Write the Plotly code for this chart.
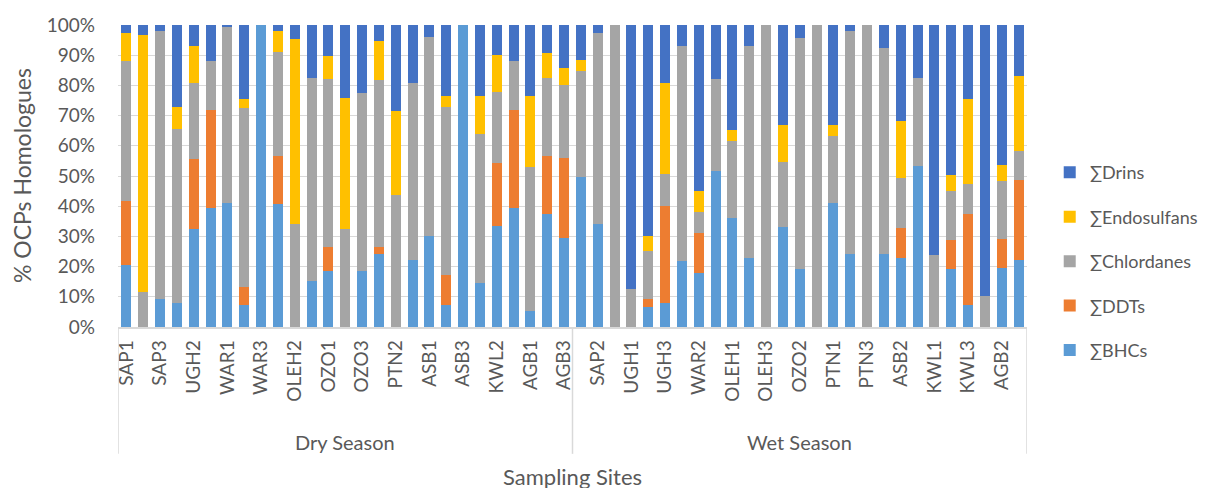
import plotly.graph_objects as go

sites = ["SAP1", "SAP2", "SAP3", "UGH1", "UGH2", "UGH3", "WAR1", "WAR2", "WAR3",
         "OLEH1", "OLEH2", "OLEH3", "OZO1", "OZO2", "OZO3", "PTN1", "PTN2", "PTN3",
         "ASB1", "ASB2", "ASB3", "KWL1", "KWL2", "KWL3", "AGB1", "AGB2", "AGB3"]
seasons = ["Dry Season", "Wet Season"]

# percentages, dry season 27 sites followed by wet season 27 sites
bhc = [20.4, 0, 9.4, 8.0, 32.3, 39.4, 41.1, 7.4, 100, 40.7, 0, 15.3, 18.7, 0, 18.4, 24.3, 0, 22.1,
       30.2, 7.4, 100, 14.6, 33.6, 39.5, 5.2, 37.3, 29.4,
       49.6, 34.0, 0, 0, 6.5, 7.8, 21.7, 18.0, 51.7, 36.1, 22.9, 0, 33.2, 19.1, 0, 41.1, 24.1, 0,
       24.1, 22.9, 53.4, 0, 19.1, 7.4, 0, 19.5, 22.1]
ddt = [21.2, 0, 0, 0, 23.2, 32.6, 0, 5.8, 0, 15.8, 0, 0, 7.8, 0, 0, 2.2, 0, 0,
       0, 9.7, 0, 0, 20.6, 32.5, 0, 19.2, 26.5,
       0, 0, 0, 0, 2.9, 32.4, 0, 13.0, 0, 0, 0, 0, 0, 0, 0, 0, 0, 0,
       0, 9.8, 0, 0, 9.8, 29.9, 0, 9.8, 26.7]
chl = [46.4, 11.6, 88.7, 57.6, 25.3, 16.0, 58.3, 59.2, 0, 34.7, 34.0, 67.3, 55.6, 32.3, 59.1, 55.3, 43.8, 58.7,
       65.9, 55.8, 0, 49.3, 23.7, 16.0, 47.8, 26.1, 24.3,
       35.2, 63.4, 100, 12.7, 15.7, 10.6, 71.5, 7.0, 30.4, 25.6, 70.3, 100, 21.6, 76.6, 100, 22.1, 74.0, 100,
       68.2, 16.8, 29.2, 23.8, 16.0, 10.1, 10.3, 19.0, 9.6]
endo = [9.4, 85.2, 0, 7.4, 12.4, 0, 0, 3.1, 0, 6.7, 61.4, 0, 7.8, 43.6, 0, 13.0, 27.8, 0,
        0, 3.7, 0, 12.7, 12.3, 0, 23.6, 8.0, 5.4,
        3.7, 0, 0, 0, 5.0, 30.0, 0, 6.9, 0, 3.6, 0, 0, 12.1, 0, 0, 3.7, 0, 0,
        0, 18.6, 0, 0, 5.5, 28.0, 0, 5.5, 24.6]
drins = [2.6, 3.2, 1.9, 27.0, 6.8, 12.0, 0.6, 24.5, 0, 2.1, 4.6, 17.4, 10.1, 24.1, 22.5, 5.2, 28.4, 19.2,
         3.9, 23.4, 0, 23.4, 9.8, 12.0, 23.4, 9.4, 14.4,
         11.5, 2.6, 0, 87.3, 69.9, 19.2, 6.8, 55.1, 17.9, 34.7, 6.8, 0, 33.1, 4.3, 0, 33.1, 1.9, 0,
         7.7, 31.9, 17.4, 76.2, 49.6, 24.6, 89.7, 46.2, 17.0]

series = [("∑BHCs", bhc, "#5B9BD5"), ("∑DDTs", ddt, "#ED7D31"),
          ("∑Chlordanes", chl, "#A5A5A5"), ("∑Endosulfans", endo, "#FFC000"),
          ("∑Drins", drins, "#4472C4")]

labels = sites + sites
xs = list(range(len(labels)))
n_dry = len(sites)

fig = go.Figure()
for i, (name, vals, col) in enumerate(series):
    fig.add_trace(go.Bar(x=xs, y=vals, name=name, marker=dict(color=col, line=dict(width=0)),
                         legendgroup=name, legendrank=len(series) - i))

txt = "#595959"
font = "Lato, 'Open Sans', sans-serif"
fig.update_layout(
    barmode="stack", bargap=0.4,
    width=1212, height=488,
    margin=dict(l=110, r=193, t=16.5, b=169, autoexpand=False),
    paper_bgcolor="white", plot_bgcolor="white",
    font=dict(family=font, color=txt, size=18),
    showlegend=True,
    legend=dict(traceorder="grouped", x=1.025, xanchor="left", y=0.218, yanchor="middle",
                font=dict(size=18, color=txt), tracegroupgap=18, itemwidth=30),
    xaxis=dict(range=[-0.5, len(xs) - 0.5], tickmode="array", tickvals=xs[::2],
               ticktext=labels[::2], tickangle=-90, showgrid=False, showline=True,
               linecolor="#D9D9D9", linewidth=1.5, ticks="", automargin=False,
               tickfont=dict(size=19, color=txt), ticklabelstandoff=4),
    yaxis=dict(range=[0, 100], dtick=10, ticksuffix="%", showgrid=True, gridcolor="#D9D9D9",
               gridwidth=1, zeroline=False, showline=False, ticks="", automargin=False,
               tickfont=dict(size=19, color=txt), ticklabelstandoff=22),
)

# season group dividers and labels
for xv in [-0.5, n_dry - 0.5, len(xs) - 0.5]:
    fig.add_shape(type="line", xref="x", yref="paper", x0=xv, x1=xv, y0=0, y1=-0.42,
                  line=dict(color="#D9D9D9", width=1.5))
fig.add_annotation(x=(n_dry - 1) / 2, y=-0.38, xref="x", yref="paper", text=seasons[0],
                   showarrow=False, font=dict(size=20, color=txt), yanchor="middle")
fig.add_annotation(x=n_dry + (n_dry - 1) / 2, y=-0.38, xref="x", yref="paper", text=seasons[1],
                   showarrow=False, font=dict(size=20, color=txt), yanchor="middle")
fig.add_annotation(x=0.5, y=-0.495, xref="paper", yref="paper", text="Sampling Sites",
                   showarrow=False, font=dict(size=22, color=txt), yanchor="middle")
fig.add_annotation(x=-0.1056, y=0.5, xref="paper", yref="paper", text="% OCPs Homologues",
                   textangle=-90, showarrow=False, font=dict(size=23, color=txt),
                   xanchor="center", yanchor="middle")

fig.write_html("out.html")
